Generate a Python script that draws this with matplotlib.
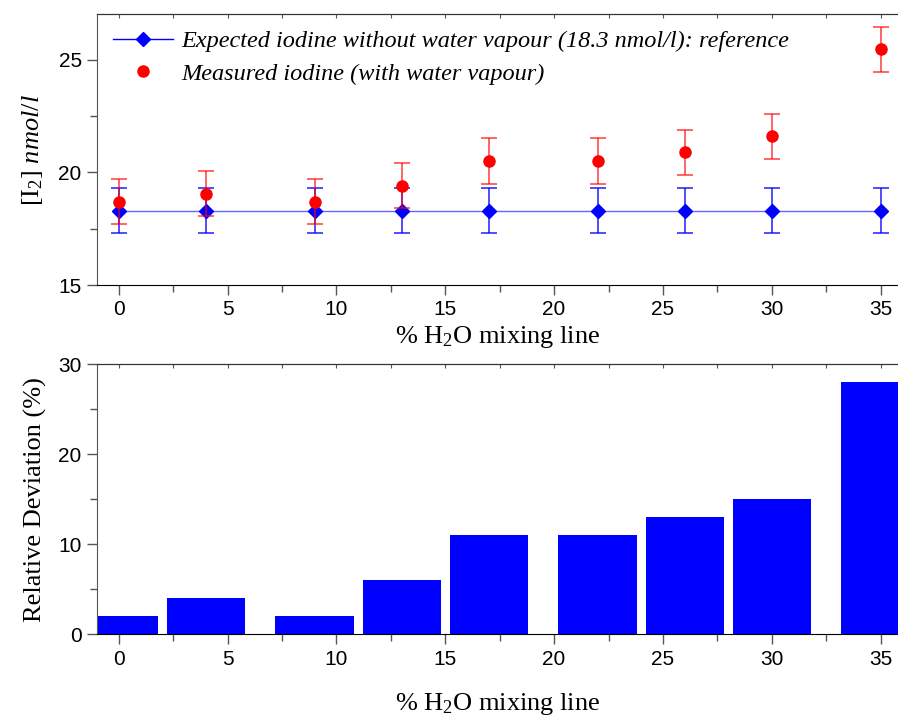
import numpy as np
import matplotlib
matplotlib.use("Agg")
import matplotlib.pyplot as plt
from matplotlib.ticker import MultipleLocator

# data
water = [0, 4, 9, 13, 17, 22, 26, 30, 35]
expected = [18.3, 18.3, 18.3, 18.3, 18.3, 18.3, 18.3, 18.3, 18.3]
expected_err = [1, 1, 1, 1, 1, 1, 1, 1, 1]
measured = [18.7, 19.05, 18.7, 19.4, 20.5, 20.5, 20.88, 21.6, 25.45]
measured_err = [1, 1, 1, 1, 1, 1, 1, 1, 1]
rel_dev = [2, 4, 2, 6, 11, 11, 13, 15, 28]

plt.rcParams['mathtext.fontset'] = 'custom'
plt.rcParams['mathtext.rm'] = 'Liberation Serif'
plt.rcParams['mathtext.it'] = 'Liberation Serif:italic'

serif = 'Liberation Serif'
sans = 'Liberation Sans'


def style_axis(ax, ymaj, ymin):
    ax.set_xlim(-1, 35.8)
    ax.xaxis.set_major_locator(MultipleLocator(5))
    ax.xaxis.set_minor_locator(MultipleLocator(2.5))
    ax.yaxis.set_major_locator(MultipleLocator(ymaj))
    ax.yaxis.set_minor_locator(MultipleLocator(ymin))
    ax.spines['right'].set_visible(False)
    ax.spines['left'].set_color('#555555')
    ax.spines['top'].set_color('#333333')
    ax.spines['bottom'].set_color('black')
    ax.tick_params(which='major', direction='out', length=7.5, width=1, color='#555555',
                   labelsize=15, top=False, right=False)
    ax.tick_params(which='minor', direction='out', length=5, width=1, color='#555555',
                   top=False, right=False)
    for lab in ax.get_xticklabels() + ax.get_yticklabels():
        lab.set_fontfamily(sans)
    # small inward ticks along the top frame
    sec = ax.secondary_xaxis('top')
    sec.xaxis.set_major_locator(MultipleLocator(2.5))
    sec.tick_params(direction='in', length=3, color='#555555', labeltop=False)
    sec.spines['top'].set_color('#333333')


fig = plt.figure(figsize=(8.98, 7.2), dpi=100)
ax1 = fig.add_axes([0.108, 0.604, 0.892, 0.376])
ax2 = fig.add_axes([0.108, 0.119, 0.892, 0.375])

# top panel
ax1.errorbar(water, expected, yerr=expected_err, fmt='none', ecolor='blue', alpha=0.75,
             elinewidth=1.3, capsize=5.5, capthick=1.3, zorder=2)
ax1.plot(water, expected, color='blue', lw=1, alpha=0.6, zorder=2)
ax1.plot(water, expected, 'D', color='blue', ms=7.5, zorder=3)
ax1.errorbar(water, measured, yerr=measured_err, fmt='none', ecolor='red', alpha=0.65,
             elinewidth=1.3, capsize=5.5, capthick=1.3, zorder=4)
ax1.plot(water, measured, 'o', color='red', ms=8, zorder=5)

h1, = ax1.plot([], [], '-D', color='blue', lw=1, ms=7.5)
h2, = ax1.plot([], [], 'o', color='red', ms=8)
ax1.legend([h1, h2],
           ['Expected iodine without water vapour (18.3 nmol/l): reference',
            'Measured iodine (with water vapour)'],
           loc='upper left', bbox_to_anchor=(0.0, 1.0), frameon=False,
           prop={'family': serif, 'style': 'italic', 'size': 17.5},
           handlelength=2.47, handletextpad=0.33, labelspacing=0.42, borderpad=0.16)

ax1.set_ylim(15, 27)
style_axis(ax1, 5, 2.5)
ax1.set_xlabel(r'% H$_2$O mixing line', fontfamily=serif, fontsize=19, labelpad=3)
ax1.set_ylabel(r'$[\mathrm{I}_2]$ $\it{nmol/l}$', fontfamily=serif, fontsize=19, labelpad=10)

# bottom panel
ax2.bar(water, rel_dev, width=3.6, color='blue', edgecolor='none', zorder=2)
ax2.set_ylim(0, 30)
style_axis(ax2, 10, 5)
ax2.set_xlabel(r'% H$_2$O mixing line', fontfamily=serif, fontsize=19, labelpad=16)
ax2.set_ylabel('Relative Deviation (%)', fontfamily=serif, fontsize=19, labelpad=8)

fig.savefig('out.png', dpi=100)
